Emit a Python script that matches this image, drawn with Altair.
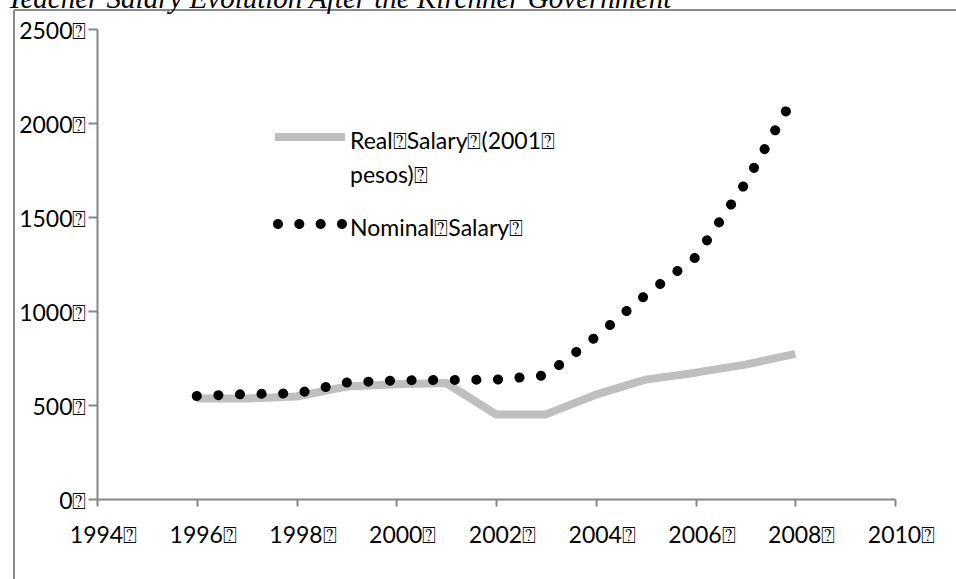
import altair as alt
import pandas as pd

# Teacher salary series (pesos), 1996-2008
years = [1996, 1997, 1998, 1999, 2000, 2001, 2002, 2003, 2004, 2005, 2006, 2007, 2008]
real_salary = [535, 535, 545, 598, 610, 617, 450, 450, 555, 635, 672, 715, 772]
nominal_salary = [548, 558, 562, 619, 631, 633, 635, 658, 862, 1085, 1285, 1680, 2150]

series_names = ["Real Salary (2001 pesos)", "Nominal Salary"]
series_colors = ["#BFBFBF", "#000000"]
x_ticks = [1994, 1996, 1998, 2000, 2002, 2004, 2006, 2008, 2010]
y_ticks = [0, 500, 1000, 1500, 2000, 2500]

BOX = "\u2370"
FONT = "Lato"
AXIS_GRAY = "#868686"

df = pd.DataFrame({
    "year": years * 2,
    "salary": real_salary + nominal_salary,
    "series": [series_names[0]] * len(years) + [series_names[1]] * len(years),
})

label_style = dict(labelFont=FONT, labelFontSize=23, labelColor="#000000",
                   labelOverlap=False, labelFlush=False,
                   domainColor=AXIS_GRAY, domainWidth=2, tickColor=AXIS_GRAY, tickWidth=2)

x_enc = alt.X("year:Q", scale=alt.Scale(domain=[1994, 2010], nice=False, zero=False),
              axis=alt.Axis(values=x_ticks, labelExpr=f"format(datum.value, 'd') + '{BOX}'",
                            tickSize=7, labelPadding=18, labelOffset=6, title=None, grid=False,
                            **label_style))
y_enc = alt.Y("salary:Q", scale=alt.Scale(domain=[0, 2500], nice=False),
              axis=alt.Axis(values=y_ticks, labelExpr=f"format(datum.value, 'd') + '{BOX}'",
                            tickSize=9, labelPadding=2, labelOffset=2, title=None, grid=False,
                            **label_style))

base = alt.Chart(df)

real_line = base.transform_filter(alt.datum.series == series_names[0]).mark_line(
    color=series_colors[0], strokeWidth=8, strokeCap="butt", strokeJoin="round"
).encode(x=x_enc, y=y_enc)

nominal_line = base.transform_filter(alt.datum.series == series_names[1]).mark_line(
    color=series_colors[1], strokeWidth=10, strokeCap="round", strokeDash=[0.1, 21.5]
).encode(x=x_enc, y=y_enc)

# legend glyphs (unit = 30 px): a thick bar and a row of four dots, set a little low
shift = 0.2
half_len = 1.167
bar_path = f"M{-half_len},{shift - 0.133:.3f}H{half_len}V{shift + 0.133:.3f}H{-half_len}Z"
r = 0.167
dot_path = "".join(
    f"M{cx - r:.3f},{shift}a{r},{r} 0 1,0 {2 * r:.3f},0a{r},{r} 0 1,0 {-2 * r:.3f},0"
    for cx in [-1.067, -0.356, 0.356, 1.067]
)

label_expr = (
    f"datum.label == '{series_names[0]}' ? "
    f"['Real{BOX}Salary{BOX}(2001{BOX}', 'pesos){BOX}'] : ['Nominal{BOX}Salary{BOX}']"
)

legend = alt.Legend(
    title=None, orient="none", legendX=183, legendY=72,
    symbolSize=3600, labelFont=FONT, labelFontSize=23, labelColor="#000000",
    labelExpr=label_expr, labelOffset=10, rowPadding=0, labelLimit=400,
    symbolOpacity=1, symbolStrokeWidth=0, labelBaseline="top",
)

legend_layer = base.mark_point(filled=True, opacity=0).encode(
    x=x_enc, y=y_enc,
    shape=alt.Shape("series:N", scale=alt.Scale(domain=series_names, range=[bar_path, dot_path]),
                    legend=legend),
    color=alt.Color("series:N", scale=alt.Scale(domain=series_names, range=series_colors),
                    legend=legend),
)

frame_src = alt.Chart(pd.DataFrame({"k": [0]}))
frame_left = frame_src.mark_rule(color="#8A8A8A", strokeWidth=2).encode(
    x=alt.value(-83), y=alt.value(-19), y2=alt.value(560))
frame_top = frame_src.mark_rule(color="#8A8A8A", strokeWidth=2).encode(
    x=alt.value(-83), x2=alt.value(880), y=alt.value(-19))

chart = alt.layer(frame_left, frame_top, real_line, nominal_line, legend_layer).properties(
    width=798, height=470,
    autosize=alt.AutoSizeParams(type="none"),
    padding={"left": 97, "top": 29, "right": 61, "bottom": 80},
    title=alt.TitleParams(
        "Teacher Salary Evolution After the Kirchner Government",
        font="Liberation Serif", fontStyle="italic", fontWeight="normal", fontSize=29,
        color="#000000", anchor="start", frame="group", dx=-90, dy=9,
    ),
).configure(
    background="white",
    style={"guide-label": {"lineHeight": 34}},
).configure_view(stroke="transparent", strokeWidth=0)

chart.save("out.html", embed_options={"renderer": "svg", "actions": False})
